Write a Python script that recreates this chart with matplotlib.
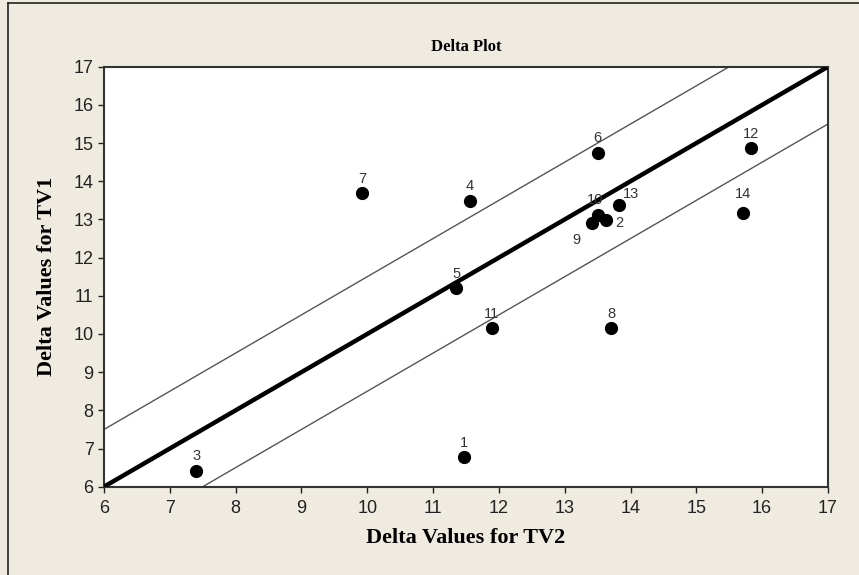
import matplotlib.pyplot as plt
from matplotlib.lines import Line2D

# Delta values for each item (TV2 on x, TV1 on y)
items = [1, 2, 3, 4, 5, 6, 7, 8, 9, 10, 11, 12, 13, 14]
tv2 = [11.47, 13.62, 7.40, 11.56, 11.35, 13.50, 9.92, 13.71, 13.41, 13.50, 11.89, 15.83, 13.82, 15.71]
tv1 = [6.77, 12.98, 6.42, 13.49, 11.20, 14.75, 13.68, 10.15, 12.90, 13.12, 10.15, 14.86, 13.37, 13.18]

# reference line y = x and the +/- 1.5 band
line_x = [6, 17]
band = 1.5

bg = '#efebe1'
fig = plt.figure(figsize=(8.59, 5.75), dpi=100, facecolor=bg)
ax = fig.add_axes([104 / 859, 1 - 486.7 / 575, 724 / 859, 420 / 575])
ax.set_facecolor('white')

ax.plot(line_x, [v + band for v in line_x], color='#555555', lw=1.0, zorder=2)
ax.plot(line_x, [v - band for v in line_x], color='#555555', lw=1.0, zorder=2)
ax.plot(line_x, line_x, color='black', lw=3.2, solid_capstyle='butt', zorder=3)

ax.plot(tv2, tv1, 'o', color='black', markersize=8.5, zorder=4)

# label offsets (points) for the crowded ones
offsets = {2: (10, -2), 9: (-11, -7), 13: (9, 3), 10: (-2, 6), 14: (0, 8)}
num_font = ['Liberation Sans Narrow', 'Liberation Sans', 'DejaVu Sans']
for i, x, y in zip(items, tv2, tv1):
    dx, dy = offsets.get(i, (0, 5.5))
    ax.annotate(str(i), (x, y), xytext=(dx, dy), textcoords='offset points',
                ha='center', va='bottom' if dy > 0 else ('top' if dy < -5 else 'center'),
                fontsize=10.5, color='#333333', family=num_font, zorder=5)

ax.set_xlim(6, 17)
ax.set_ylim(6, 17)
ax.set_xticks(range(6, 18))
ax.set_yticks(range(6, 18))
ax.tick_params(direction='out', length=4.5, width=1, colors='#222222', labelsize=13, pad=3)
ax.tick_params(axis='x', pad=5)
for lab in ax.get_xticklabels() + ax.get_yticklabels():
    lab.set_family(['Liberation Sans', 'DejaVu Sans'])
for s in ax.spines.values():
    s.set_linewidth(1.5)
    s.set_color('#333333')

ax.set_xlabel('Delta Values for TV2', family='Liberation Serif', fontweight='bold', fontsize=16, labelpad=8)
ax.set_ylabel('Delta Values for TV1', family='Liberation Serif', fontweight='bold', fontsize=16, labelpad=12)
ax.set_title('Delta Plot', family='Liberation Serif', fontweight='bold', fontsize=12, pad=11)

# outer frame (only top and left edges visible in the original)
fig.add_artist(Line2D([8 / 859, 8 / 859], [0, 1 - 3 / 575], transform=fig.transFigure, color='#222222', lw=1.2))
fig.add_artist(Line2D([8 / 859, 1], [1 - 3 / 575, 1 - 3 / 575], transform=fig.transFigure, color='#222222', lw=1.2))

fig.savefig('out.png', dpi=100, facecolor=bg)
